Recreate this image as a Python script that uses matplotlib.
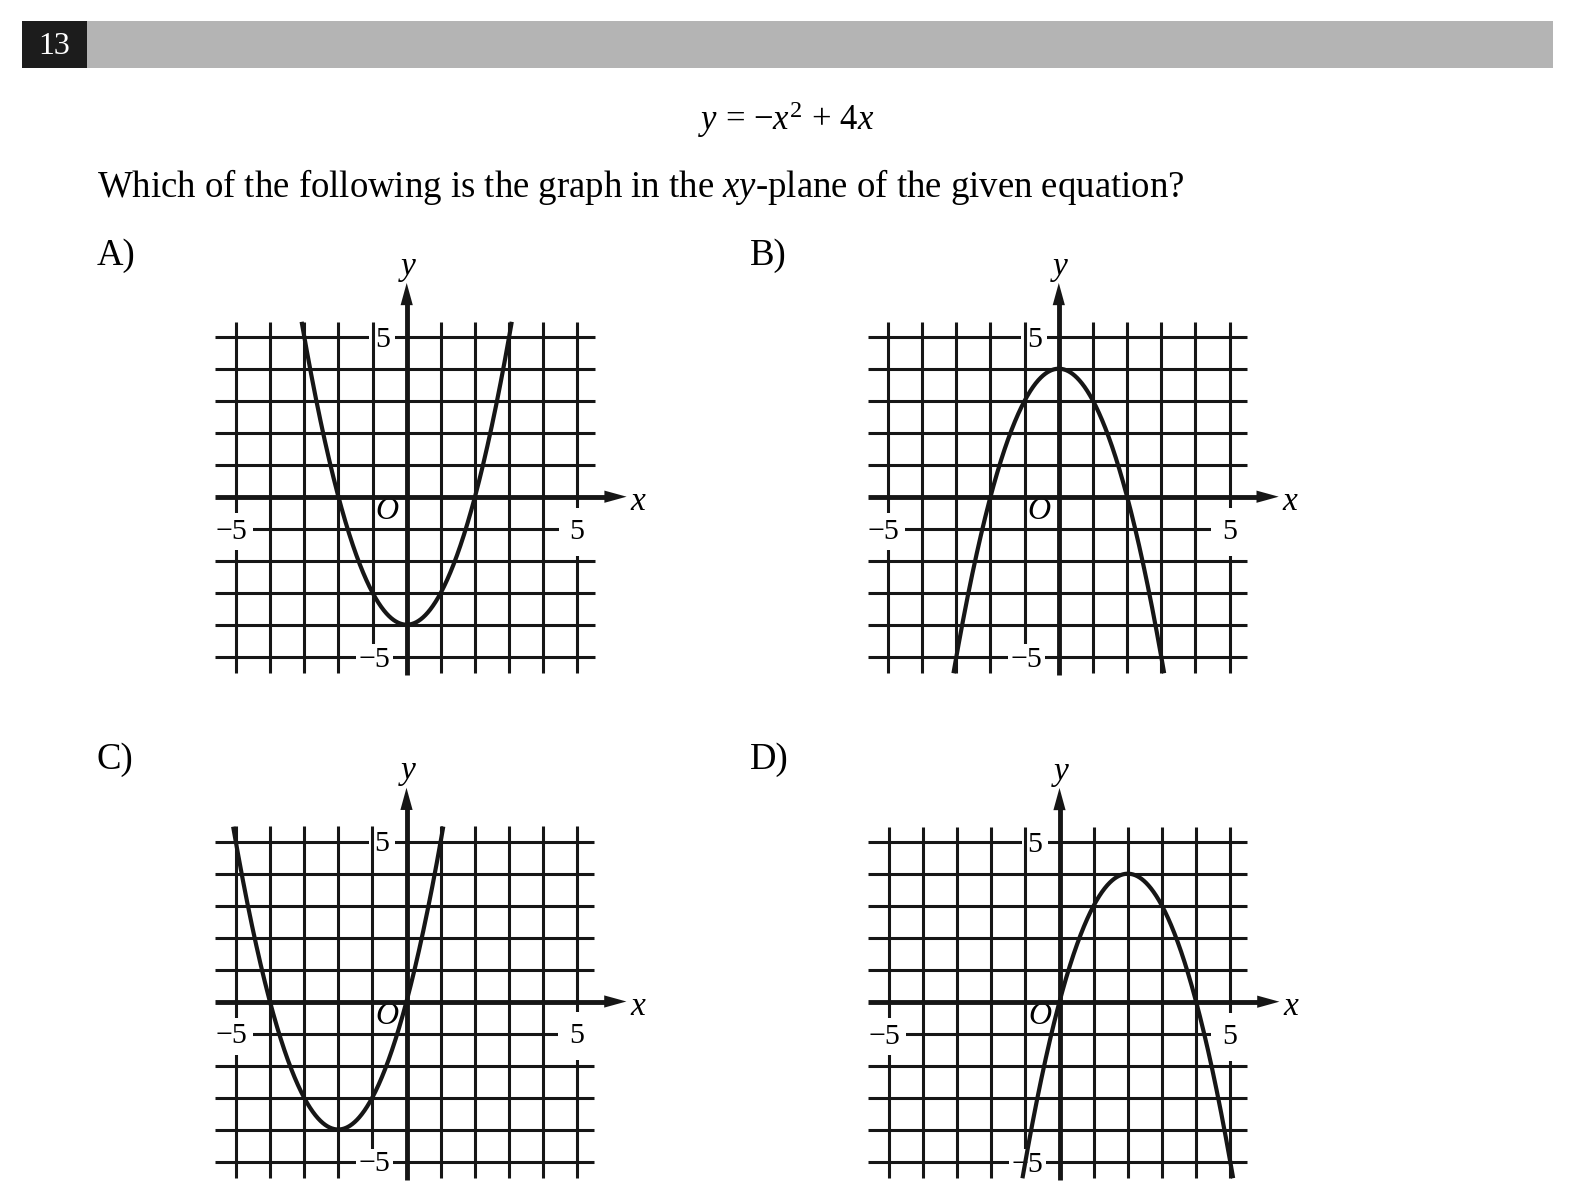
import numpy as np
import matplotlib.pyplot as plt
from matplotlib.patches import Rectangle

plt.rcParams['font.family'] = ['Liberation Serif', 'DejaVu Serif']
plt.rcParams['mathtext.fontset'] = 'custom'
plt.rcParams['mathtext.rm'] = 'Liberation Serif'
plt.rcParams['mathtext.it'] = 'Liberation Serif:italic'

W, H = 1580, 1204

# question text
question_no = '13'
equation = '$y$ = \u2212$x^{2}$ + 4$x$'
question = r'Which of the following is the graph in the $xy$-plane of the given equation?'

# answer choices: y = a*x^2 + b*x + c
choice_labels = ['A)', 'B)', 'C)', 'D)']
coef_a = [1, -1, 1, -1]
coef_b = [0, 0, 4, 4]
coef_c = [-4, 4, 0, 0]

grid_vals = [-5, -4, -3, -2, -1, 1, 2, 3, 4, 5]
tick_text = ['\u22125', '5']

# layout (pixels, top-left origin)
origins = [(406.7, 496.7), (1058.8, 496.7), (406.5, 1001.5), (1059.5, 1001.7)]
label_pos = [(97, 256), (750, 256), (97, 760), (750, 760)]
ux, uy = 34.15, 32.0
x0, x1, y0, y1 = -6.5, 7.5, -6.5, 8.0
ink = '#161616'

fig = plt.figure(figsize=(W / 100, H / 100), dpi=100)

bg = fig.add_axes([0, 0, 1, 1])
bg.set_xlim(0, W)
bg.set_ylim(H, 0)
bg.axis('off')
bg.add_patch(Rectangle((22, 21), 65, 46.5, color='#1c1c1c', lw=0))
bg.add_patch(Rectangle((87, 21), 1466, 46.5, color='#b4b4b4', lw=0))
bg.text(54.5, 46, question_no, color='white', fontsize=23, ha='center', va='center')
bg.text(786, 130, equation, fontsize=25, ha='center', va='baseline')
bg.text(97, 197, question, fontsize=26.5, ha='left', va='baseline')

for i in range(4):
    bg.text(label_pos[i][0], label_pos[i][1], choice_labels[i], fontsize=26.5,
            ha='left', va='center')

    ox, oy = origins[i]
    left = ox + x0 * ux
    right = ox + x1 * ux
    top = oy - y1 * uy
    bottom = oy - y0 * uy
    ax = fig.add_axes([left / W, 1 - bottom / H, (right - left) / W, (bottom - top) / H])
    ax.set_xlim(x0, x1)
    ax.set_ylim(y0, y1)
    ax.axis('off')
    ax.patch.set_alpha(0)

    ax.hlines(grid_vals, -5.6, 5.5, color=ink, lw=2.2, zorder=1)
    ax.vlines(grid_vals, -5.52, 5.47, color=ink, lw=2.2, zorder=3)

    # axes with arrow heads
    ax.plot([-5.6, 6.0], [0, 0], color=ink, lw=3.5, solid_capstyle='butt', zorder=5)
    ax.plot([0, 0], [-5.58, 6.2], color=ink, lw=3.5, solid_capstyle='butt', zorder=5)
    head = dict(arrowstyle='-|>,head_length=0.8,head_width=0.22', lw=0,
                fc=ink, ec=ink, shrinkA=0, shrinkB=0, mutation_scale=20)
    ax.annotate('', xy=(6.44, 0), xytext=(5.5, 0), arrowprops=head, zorder=5)
    ax.annotate('', xy=(0, 6.68), xytext=(0, 5.8), arrowprops=head, zorder=5)
    ax.text(6.76, -0.15, 'x', style='italic', fontsize=24, ha='center', va='center')
    ax.text(0.04, 7.2, 'y', style='italic', fontsize=24, ha='center', va='center')

    dy = 0.31
    ax.text(-0.5, 5 - dy, tick_text[1], fontsize=21.5, ha='right', va='baseline',
            bbox=dict(facecolor='white', edgecolor='none', pad=4), zorder=2)
    ax.text(-0.48, -5 - dy, tick_text[0], fontsize=21.5, ha='right', va='baseline',
            bbox=dict(facecolor='white', edgecolor='none', pad=2), zorder=4)
    ax.text(-5.13, -1 - dy, tick_text[0], fontsize=21.5, ha='center', va='baseline',
            bbox=dict(facecolor='white', edgecolor='none', pad=4), zorder=4)
    ax.text(4.99, -1 - dy, tick_text[1], fontsize=21.5, ha='center', va='baseline',
            bbox=dict(facecolor='white', edgecolor='none', pad=8), zorder=4)
    ax.text(-0.58, -0.47, 'O', style='italic', fontsize=23, ha='center', va='center',
            zorder=4)

    xs = np.linspace(-5.6, 5.6, 4000)
    ys = coef_a[i] * xs ** 2 + coef_b[i] * xs + coef_c[i]
    m = (ys <= 5.47) & (ys >= -5.52)
    ax.plot(xs[m], ys[m], color=ink, lw=3.0, solid_capstyle='butt', zorder=6)

fig.savefig('out.png', dpi=100)
